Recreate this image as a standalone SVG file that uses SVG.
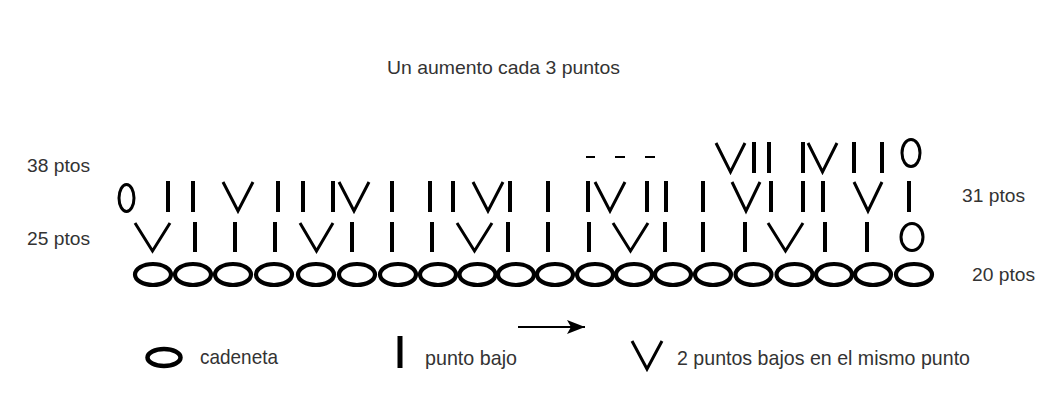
<svg xmlns="http://www.w3.org/2000/svg" width="1061" height="408" viewBox="0 0 1061 408">
<style>
.t{font-family:"Liberation Sans",Arial,sans-serif;fill:#333;}
.i{stroke:#000;stroke-width:4;}
.v{stroke:#000;stroke-width:3;fill:none;stroke-linejoin:miter;}
.o{stroke:#000;stroke-width:4.2;fill:none;}
.z{stroke:#000;stroke-width:3;fill:none;}
.d{stroke:#000;stroke-width:2;}
</style>
<defs>
<marker id="ah" viewBox="0 0 18 14" refX="18" refY="7" markerWidth="18" markerHeight="14" markerUnits="userSpaceOnUse" orient="auto">
<path d="M0,0 L18,7 L0,14 L4,7 Z" fill="#000"/>
</marker>
</defs>
<rect width="1061" height="408" fill="#fff"/>

<g id="title"><text class="t" x="387" y="74" font-size="19" textLength="233" lengthAdjust="spacingAndGlyphs">Un aumento cada 3 puntos</text></g>

<g id="labels">
<text class="t" x="27" y="172" font-size="18" textLength="63" lengthAdjust="spacingAndGlyphs">38 ptos</text>
<text class="t" x="27" y="245" font-size="18" textLength="63" lengthAdjust="spacingAndGlyphs">25 ptos</text>
<text class="t" x="962" y="202" font-size="18" textLength="63" lengthAdjust="spacingAndGlyphs">31 ptos</text>
<text class="t" x="972" y="281" font-size="18" textLength="63" lengthAdjust="spacingAndGlyphs">20 ptos</text>
</g>

<g id="row4">
<line class="d" x1="586" y1="157" x2="595" y2="157"/>
<line class="d" x1="615" y1="157" x2="625" y2="157"/>
<line class="d" x1="645" y1="157" x2="655" y2="157"/>
<polyline class="v" points="716,143 730.5,172 745,143"/>
<line class="i" x1="754" y1="142" x2="754" y2="173"/>
<line class="i" x1="769" y1="142" x2="769" y2="173"/>
<line class="i" x1="803" y1="142" x2="803" y2="173"/>
<polyline class="v" points="808,143 822.5,172 837,143"/>
<line class="i" x1="854" y1="142" x2="854" y2="173"/>
<line class="i" x1="882" y1="142" x2="882" y2="173"/>
<ellipse class="z" cx="911" cy="153" rx="9" ry="13.5"/>
</g>

<g id="row3">
<ellipse class="z" cx="126.5" cy="198" rx="7.5" ry="13.5"/>
<line class="i" x1="168" y1="181" x2="168" y2="212"/>
<line class="i" x1="193" y1="181" x2="193" y2="212"/>
<polyline class="v" points="223,182 238,211 253,182"/>
<line class="i" x1="278" y1="181" x2="278" y2="212"/>
<line class="i" x1="303" y1="181" x2="303" y2="212"/>
<line class="i" x1="333" y1="181" x2="333" y2="212"/>
<polyline class="v" points="339,182 354,211 369,182"/>
<line class="i" x1="392" y1="181" x2="392" y2="212"/>
<line class="i" x1="430" y1="181" x2="430" y2="212"/>
<line class="i" x1="453" y1="181" x2="453" y2="212"/>
<polyline class="v" points="473,182 488,211 503,182"/>
<line class="i" x1="510" y1="181" x2="510" y2="212"/>
<line class="i" x1="548" y1="181" x2="548" y2="212"/>
<line class="i" x1="588" y1="181" x2="588" y2="212"/>
<polyline class="v" points="595,182 610,211 625,182"/>
<line class="i" x1="647" y1="181" x2="647" y2="212"/>
<line class="i" x1="666" y1="181" x2="666" y2="212"/>
<line class="i" x1="703" y1="181" x2="703" y2="212"/>
<polyline class="v" points="732,182 746,211 760,182"/>
<line class="i" x1="771" y1="181" x2="771" y2="212"/>
<line class="i" x1="803" y1="181" x2="803" y2="212"/>
<line class="i" x1="823" y1="181" x2="823" y2="212"/>
<polyline class="v" points="854,182 868,211 882,182"/>
<line class="i" x1="909" y1="181" x2="909" y2="212"/>
</g>

<g id="row2">
<polyline class="v" points="135,223 152.5,251 170,223"/>
<line class="i" x1="195" y1="222" x2="195" y2="252"/>
<line class="i" x1="235" y1="222" x2="235" y2="252"/>
<line class="i" x1="275" y1="222" x2="275" y2="252"/>
<polyline class="v" points="300,223 316.5,251 333,223"/>
<line class="i" x1="352" y1="222" x2="352" y2="252"/>
<line class="i" x1="392" y1="222" x2="392" y2="252"/>
<line class="i" x1="432" y1="222" x2="432" y2="252"/>
<polyline class="v" points="457,223 474.5,251 492,223"/>
<line class="i" x1="508" y1="222" x2="508" y2="252"/>
<line class="i" x1="548" y1="222" x2="548" y2="252"/>
<line class="i" x1="589" y1="222" x2="589" y2="252"/>
<polyline class="v" points="613,223 630.5,251 648,223"/>
<line class="i" x1="665" y1="222" x2="665" y2="252"/>
<line class="i" x1="703" y1="222" x2="703" y2="252"/>
<line class="i" x1="745" y1="222" x2="745" y2="252"/>
<polyline class="v" points="768,223 785.5,251 803,223"/>
<line class="i" x1="825" y1="222" x2="825" y2="252"/>
<line class="i" x1="867" y1="222" x2="867" y2="252"/>
<ellipse class="z" cx="912" cy="237" rx="11" ry="13.5"/>
</g>

<g id="row1">
<ellipse class="o" cx="153" cy="274.5" rx="18" ry="10.5"/>
<ellipse class="o" cx="193" cy="274.5" rx="18" ry="10.5"/>
<ellipse class="o" cx="233" cy="274.5" rx="18" ry="10.5"/>
<ellipse class="o" cx="274" cy="274.5" rx="18" ry="10.5"/>
<ellipse class="o" cx="316" cy="274.5" rx="18" ry="10.5"/>
<ellipse class="o" cx="357" cy="274.5" rx="18" ry="10.5"/>
<ellipse class="o" cx="398" cy="274.5" rx="18" ry="10.5"/>
<ellipse class="o" cx="438" cy="274.5" rx="18" ry="10.5"/>
<ellipse class="o" cx="477.5" cy="274.5" rx="18" ry="10.5"/>
<ellipse class="o" cx="516" cy="274.5" rx="18" ry="10.5"/>
<ellipse class="o" cx="555" cy="274.5" rx="18" ry="10.5"/>
<ellipse class="o" cx="595" cy="274.5" rx="18" ry="10.5"/>
<ellipse class="o" cx="634" cy="274.5" rx="18" ry="10.5"/>
<ellipse class="o" cx="673" cy="274.5" rx="18" ry="10.5"/>
<ellipse class="o" cx="713" cy="274.5" rx="18" ry="10.5"/>
<ellipse class="o" cx="753.5" cy="274.5" rx="18" ry="10.5"/>
<ellipse class="o" cx="794.5" cy="274.5" rx="18" ry="10.5"/>
<ellipse class="o" cx="834" cy="274.5" rx="18" ry="10.5"/>
<ellipse class="o" cx="873" cy="274.5" rx="18" ry="10.5"/>
<ellipse class="o" cx="914" cy="274.5" rx="18" ry="10.5"/>
</g>

<g id="connectors">
<line x1="518" y1="327" x2="585" y2="327" stroke="#000" stroke-width="2" marker-end="url(#ah)"/>
</g>

<g id="legend-cadeneta">
<ellipse cx="164" cy="357.5" rx="16.5" ry="8.5" stroke="#000" stroke-width="4.5" fill="none"/>
<text class="t" x="200" y="364" font-size="21" textLength="78" lengthAdjust="spacingAndGlyphs">cadeneta</text>
</g>
<g id="legend-punto-bajo">
<line x1="400" y1="336" x2="400" y2="368" stroke="#000" stroke-width="5"/>
<text class="t" x="425" y="365" font-size="21" textLength="92" lengthAdjust="spacingAndGlyphs">punto bajo</text>
</g>
<g id="legend-aumento">
<polyline class="v" points="632,341 647,369 662,341"/>
<text class="t" x="677" y="365" font-size="21" textLength="293" lengthAdjust="spacingAndGlyphs">2 puntos bajos en el mismo punto</text>
</g>
</svg>
